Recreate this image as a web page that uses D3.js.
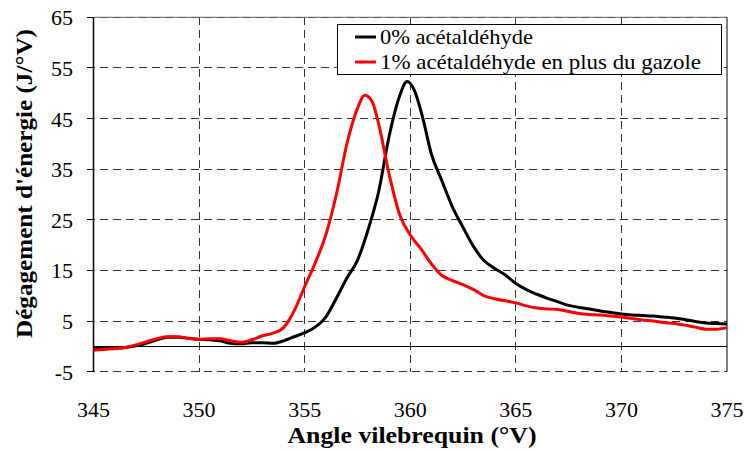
<!DOCTYPE html>
<html><head><meta charset="utf-8">
<script src="https://cdn.jsdelivr.net/npm/d3@7"></script>
<style>body{margin:0;background:#fff}svg{display:block}
text{font-family:"Liberation Serif","Times New Roman",Times,"DejaVu Serif",serif}</style>
</head><body><svg id="c" width="747" height="451"></svg>
<script>
const xTicks = [345, 350, 355, 360, 365, 370, 375];
const yTicks = [-5, 5, 15, 25, 35, 45, 55, 65];
const seriesNames = ["0% acétaldéhyde", "1% acétaldéhyde en plus du gazole"];
const seriesColors = ["#000000", "#ff0000"];

const anglesBlack = [345,345.5,346,346.5,347,347.5,348,348.5,349,349.5,350,350.5,351,351.5,352,352.5,353,353.5,354,354.5,355,355.5,356,356.5,357,357.5,358,358.5,359,359.5,359.85,360.2,360.6,361,361.5,362,362.5,363,363.5,364,364.5,365,365.5,366,366.5,367,367.5,368,368.5,369,369.5,370,370.5,371,371.5,372,372.5,373,373.5,374,374.5,375];
const valuesBlack = [-0.2,-0.25,-0.3,-0.2,0.1,0.6,1.3,1.8,1.8,1.6,1.4,1.3,1.1,0.6,0.5,0.7,0.7,0.6,1.1,1.9,2.7,3.8,5.8,9.5,13.5,17,23,30.5,41.5,49.5,52.3,50.5,45,38,32.7,27.5,23.5,19.7,16.9,15.4,14.1,12.4,11.2,10.3,9.5,8.8,8.1,7.7,7.4,7.0,6.7,6.4,6.2,6.1,6.0,5.8,5.6,5.3,4.9,4.6,4.5,4.4];

const anglesRed = [345,345.5,346,346.5,347,347.5,348,348.5,349,349.5,350,350.5,351,351.5,352,352.5,353,353.5,354,354.5,355,355.5,356,356.5,357,357.5,357.85,358.2,358.5,359,359.5,360,360.5,361,361.5,362,362.5,363,363.5,364,364.5,365,365.5,366,366.5,367,367.5,368,368.5,369,369.5,370,370.5,371,371.5,372,372.5,373,373.5,374,374.5,375];
const valuesRed = [-0.75,-0.6,-0.4,-0.2,0.3,0.9,1.5,1.9,1.9,1.6,1.4,1.5,1.5,1.1,0.8,1.3,2.1,2.6,3.7,7,11.8,16.5,22,30,40,47,49.6,48.3,44,34,26,22,19.3,16.3,14,13,12.2,11.2,10,9.4,9,8.6,8,7.6,7.4,7.3,6.9,6.5,6.3,6.2,6,5.8,5.5,5.2,5,4.7,4.5,4.2,3.8,3.4,3.4,3.7];

const svg = d3.select("#c");
const L = 93.5, R = 727, T = 17.3, B = 371.7;
const x = d3.scaleLinear().domain([345, 375]).range([L, R]);
const y = d3.scaleLinear().domain([-5, 65]).range([B, T]);

const g = svg.append("g");
g.selectAll("line.h").data(yTicks).enter().append("line")
  .attr("x1", L - 7).attr("x2", R).attr("y1", d => y(d)).attr("y2", d => y(d))
  .attr("stroke", "#333").attr("stroke-width", 1).attr("stroke-dasharray", "8,5")
  .attr("shape-rendering", "crispEdges");
g.selectAll("line.v").data(xTicks.slice(1, -1)).enter().append("line")
  .attr("x1", d => x(d)).attr("x2", d => x(d)).attr("y1", T).attr("y2", B)
  .attr("stroke", "#333").attr("stroke-width", 1).attr("stroke-dasharray", "8,5")
  .attr("shape-rendering", "crispEdges");
g.selectAll("line.t").data(yTicks).enter().append("line")
  .attr("x1", L - 7).attr("x2", L).attr("y1", d => y(d)).attr("y2", d => y(d))
  .attr("stroke", "#000").attr("shape-rendering", "crispEdges");
g.append("line").attr("x1", L).attr("x2", R).attr("y1", y(0)).attr("y2", y(0))
  .attr("stroke", "#000").attr("stroke-width", 1).attr("shape-rendering", "crispEdges");
g.append("line").attr("x1", L).attr("x2", L).attr("y1", T).attr("y2", B)
  .attr("stroke", "#000").attr("stroke-width", 1.5);
g.append("line").attr("x1", R).attr("x2", R).attr("y1", T).attr("y2", B)
  .attr("stroke", "#000").attr("stroke-width", 1);
g.append("line").attr("x1", L).attr("x2", R).attr("y1", T).attr("y2", T)
  .attr("stroke", "#666").attr("stroke-width", 1);

svg.selectAll("text.yl").data(yTicks).enter().append("text")
  .attr("x", 73).attr("y", d => y(d) + 8).attr("text-anchor", "end")
  .attr("font-size", 22).text(d => d);
svg.selectAll("text.xl").data(xTicks).enter().append("text")
  .attr("x", d => x(d)).attr("y", 417).attr("text-anchor", "middle")
  .attr("font-size", 22).text(d => d);

svg.append("text").attr("x", 412).attr("y", 443).attr("text-anchor", "middle")
  .attr("font-size", 23).attr("font-weight", "bold")
  .attr("textLength", 249).attr("lengthAdjust", "spacingAndGlyphs")
  .text("Angle vilebrequin (°V)");
svg.append("text").attr("transform", "translate(32,183.5) rotate(-90)")
  .attr("text-anchor", "middle").attr("font-size", 23)
  .attr("textLength", 309).attr("lengthAdjust", "spacingAndGlyphs")
  .attr("font-weight", "bold").text("Dégagement d'énergie (J/°V)");

const line = d3.line().x(d => x(d[0])).y(d => y(d[1])).curve(d3.curveMonotoneX);
const dataBlack = anglesBlack.map((a, i) => [a, valuesBlack[i]]);
const dataRed = anglesRed.map((a, i) => [a, valuesRed[i]]);
svg.append("path").datum(dataBlack).attr("d", line).attr("fill", "none")
  .attr("stroke", seriesColors[0]).attr("stroke-width", 3).attr("stroke-linejoin", "round");
svg.append("path").datum(dataRed).attr("d", line).attr("fill", "none")
  .attr("stroke", seriesColors[1]).attr("stroke-width", 3).attr("stroke-linejoin", "round");

const legendLengths = [153, 321];
const lg = svg.append("g");
lg.append("rect").attr("x", 337.5).attr("y", 24.5).attr("width", 384).attr("height", 50)
  .attr("fill", "#fff").attr("stroke", "#000").attr("stroke-width", 1);
seriesNames.forEach((n, i) => {
  const yy = 37 + i * 25;
  lg.append("line").attr("x1", 355).attr("x2", 376).attr("y1", yy).attr("y2", yy)
    .attr("stroke", seriesColors[i]).attr("stroke-width", 3);
  lg.append("text").attr("x", 380).attr("y", yy + 7)
    .attr("font-size", 21).attr("textLength", legendLengths[i])
    .attr("lengthAdjust", "spacingAndGlyphs").text(n);
});
</script></body></html>
